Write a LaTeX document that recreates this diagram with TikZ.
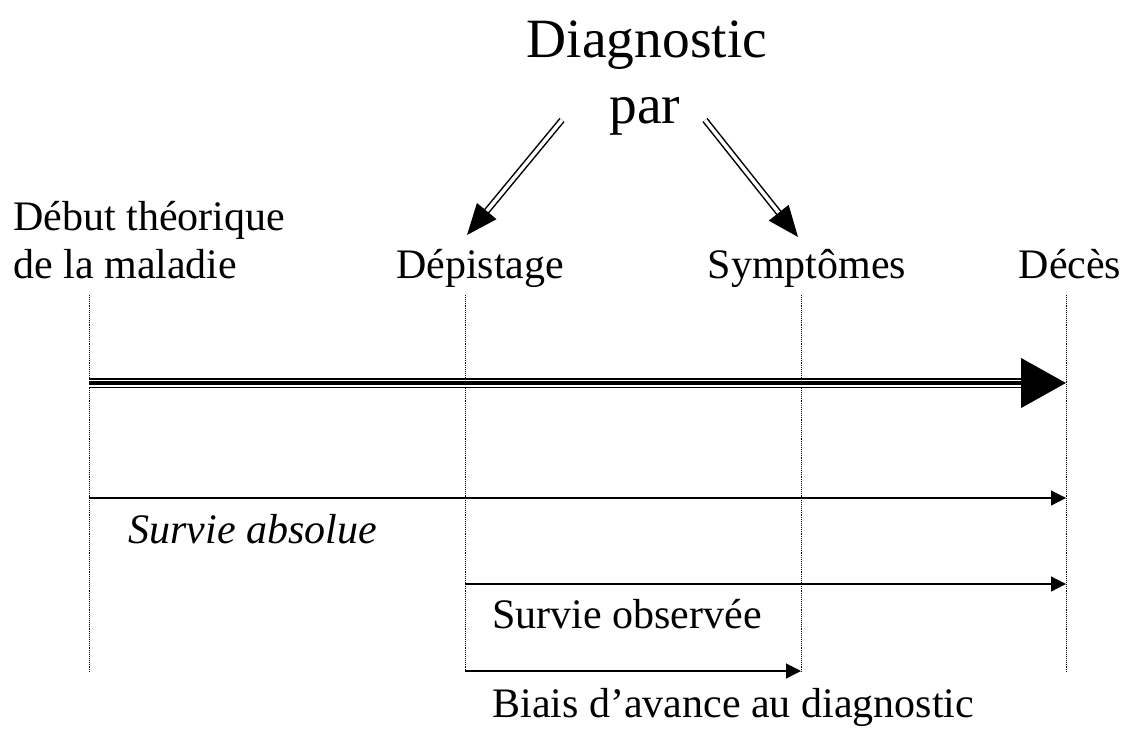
\documentclass[tikz,border=0pt]{standalone}
\usepackage{fontspec}
\setmainfont{Liberation Serif}
\newfontfamily\bigserif{Liberation Serif}[Scale=1.32]
\usetikzlibrary{arrows.meta}

\tikzset{every picture/.style={line width=0.75pt}}
\tikzset{
  lbl/.style={font=\fontsize{42}{50}\selectfont, inner sep=0pt},
  biglbl/.style={font=\fontsize{42}{50}\selectfont\bigserif, inner sep=0pt},
  guide/.style={densely dotted, line width=0.9pt},
  span/.style={line width=1.2pt, -{Triangle[length=15pt,width=15pt]}},
  pointer/.style={double, double distance=3.5pt, line width=1.5pt, -{Triangle[length=31pt,width=25pt]}}
}

\begin{document}
\begin{tikzpicture}[x=1pt,y=1pt,yscale=-1]
\useasboundingbox (0,0) rectangle (1128,729);

% labels
\node  [biglbl, anchor=base]  (diag) at (647,57) {Diagnostic};
\node  [biglbl, anchor=base]  (par) at (645,123) {par};
\node  [lbl, anchor=base west]  (debut) at (13,230) {Début théorique};
\node  [lbl, anchor=base west]  (maladie) at (13,278) {de la maladie};
\node  [lbl, anchor=base]  (depist) at (480,278) {Dépistage};
\node  [lbl, anchor=base]  (sympt) at (807,278) {Symptômes};
\node  [lbl, anchor=base]  (deces) at (1070,278) {Décès};

% guide lines
\coordinate (t0) at (89,295);   \coordinate (b0) at (89,673);
\coordinate (t1) at (465,295);  \coordinate (b1) at (465,673);
\coordinate (t2) at (801,295);  \coordinate (b2) at (801,673);
\coordinate (t3) at (1066,295); \coordinate (b3) at (1066,673);
\draw  [guide]  (t0) -- (b0) ;
\draw  [guide]  (t1) -- (b1) ;
\draw  [guide]  (t2) -- (b2) ;
\draw  [guide]  (t3) -- (b3) ;

% pointers from "par"
\coordinate (pl) at (562,120);  \coordinate (pl2) at (467,235);
\coordinate (pr) at (705,120);  \coordinate (pr2) at (798,237);
\draw  [pointer]  (pl) -- (pl2) ;
\draw  [pointer]  (pr) -- (pr2) ;

% main time line
\coordinate (m0) at (89,383);  \coordinate (m1) at (1066,383);  \coordinate (m2) at (1030,383);
\draw  [double, double distance=7pt, line width=1.8pt]  (m0) -- (m2) ;
\draw  [line width=4.5pt, -{Triangle[length=45pt,width=49pt]}]  (m0) -- (m1) ;

% spans
\coordinate (a0) at (89,498);   \coordinate (a1) at (1066,498);
\coordinate (o0) at (465,584);  \coordinate (o1) at (1066,584);
\coordinate (s0) at (465,671);  \coordinate (s1) at (801,671);
\draw  [span]  (a0) -- (a1) ;
\draw  [span]  (o0) -- (o1) ;
\draw  [span]  (s0) -- (s1) ;

\node  [lbl, anchor=base west, font=\fontsize{42}{50}\selectfont\itshape]  (absolue) at (128,543) {Survie absolue};
\node  [lbl, anchor=base west]  (observee) at (492,628) {Survie observée};
\node  [lbl, anchor=base west]  (biais) at (492,717) {Biais d’avance au diagnostic};

\end{tikzpicture}
\end{document}
